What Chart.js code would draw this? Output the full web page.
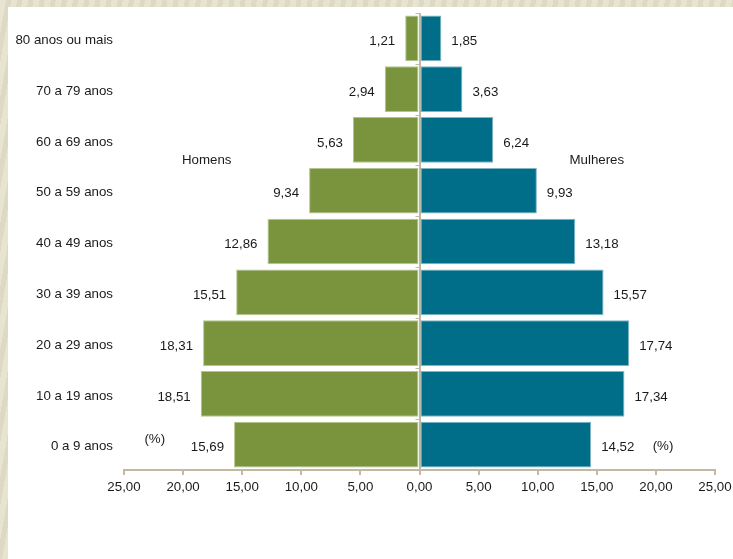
<!DOCTYPE html>
<html>
<head>
<meta charset="utf-8">
<script src="https://cdn.jsdelivr.net/npm/chart.js@4"></script>
<style>
  html, body { margin: 0; padding: 0; }
  body {
    width: 733px; height: 559px; overflow: hidden;
    background: #e4e0cb;
    background-image: repeating-linear-gradient(100deg, rgba(255,255,255,0.12) 0 6px, rgba(0,0,0,0.03) 6px 11px);
  }
  #box { position: absolute; left: 8px; top: 7px; width: 725px; height: 552px; background: #fff; }
</style>
</head>
<body>
<div id="box"><canvas id="pyramid" width="725" height="552"></canvas></div>
<script>
// faixas etárias, de cima para baixo
const faixas = ['80 anos ou mais', '70 a 79 anos', '60 a 69 anos', '50 a 59 anos', '40 a 49 anos',
  '30 a 39 anos', '20 a 29 anos', '10 a 19 anos', '0 a 9 anos'];
const homens = [1.21, 2.94, 5.63, 9.34, 12.86, 15.51, 18.31, 18.51, 15.69];
const mulheres = [1.85, 3.63, 6.24, 9.93, 13.18, 15.57, 17.74, 17.34, 14.52];
const xTicks = [-25, -20, -15, -10, -5, 0, 5, 10, 15, 20, 25];

const axisColor = '#c3b8a2';
const fontFamily = '"Liberation Sans", Arial, sans-serif';
const fontSize = 13.3;
const fmt = v => Math.abs(v).toFixed(2).replace('.', ',');

// valores nas pontas das barras, rótulos e marcas do eixo central
const piramidePlugin = {
  id: 'piramide',
  afterDatasetsDraw(chart) {
    const { ctx, scales: { x, y } } = chart;
    ctx.save();
    ctx.font = fontSize + 'px ' + fontFamily;
    ctx.fillStyle = '#1a1a1a';
    ctx.textBaseline = 'middle';

    chart.getDatasetMeta(0).data.forEach((bar, i) => {
      ctx.textAlign = 'right';
      ctx.fillText(fmt(homens[i]), bar.x - 10, bar.y + 3);
    });
    chart.getDatasetMeta(1).data.forEach((bar, i) => {
      ctx.textAlign = 'left';
      ctx.fillText(fmt(mulheres[i]), bar.x + 10, bar.y + 3);
    });

    ctx.textAlign = 'center';
    ctx.fillText('Homens', x.getPixelForValue(-18), y.getPixelForValue(2.4));
    ctx.fillText('Mulheres', x.getPixelForValue(15), y.getPixelForValue(2.4));
    ctx.fillText('(%)', x.getPixelForValue(-22.4), y.getPixelForValue(7.9));
    ctx.fillText('(%)', x.getPixelForValue(20.6), y.getPixelForValue(8.04));

    // marcas no eixo vertical central
    const x0 = x.getPixelForValue(0);
    ctx.strokeStyle = axisColor;
    ctx.lineWidth = 1;
    for (let i = 0; i <= faixas.length; i++) {
      const yb = y.getPixelForValue(i - 0.5);
      ctx.beginPath();
      ctx.moveTo(x0 - 4, Math.round(yb) + 0.5);
      ctx.lineTo(x0, Math.round(yb) + 0.5);
      ctx.stroke();
    }
    ctx.restore();
  }
};

new Chart(document.getElementById('pyramid'), {
  type: 'bar',
  data: {
    labels: faixas,
    datasets: [
      {
        label: 'Homens',
        data: homens.map(v => -v),
        backgroundColor: '#79943d',
        borderColor: '#b4c68f',
        borderWidth: 1,
        borderSkipped: false
      },
      {
        label: 'Mulheres',
        data: mulheres,
        backgroundColor: '#006e88',
        borderColor: '#7fb6c4',
        borderWidth: 1,
        borderSkipped: false
      }
    ]
  },
  options: {
    indexAxis: 'y',
    responsive: false,
    animation: false,
    barPercentage: 0.9,
    categoryPercentage: 1,
    layout: { padding: { top: 6, right: 18, bottom: 60, left: 0 } },
    plugins: { legend: { display: false }, tooltip: { enabled: false } },
    scales: {
      x: {
        stacked: true,
        min: -25,
        max: 25,
        afterBuildTicks: axis => { axis.ticks = xTicks.map(v => ({ value: v })); },
        afterFit: axis => { axis.paddingLeft = 0; axis.paddingRight = 0; },
        ticks: {
          callback: v => fmt(v),
          color: '#1a1a1a',
          font: { family: fontFamily, size: fontSize },
          padding: 4,
          maxRotation: 0
        },
        grid: {
          color: c => (c.tick && c.tick.value === 0) ? axisColor : 'transparent',
          tickColor: axisColor,
          tickLength: 5,
          lineWidth: 2
        },
        border: { color: axisColor, width: 2 }
      },
      y: {
        stacked: true,
        afterFit: axis => { axis.width = 116; axis.paddingTop = 0; axis.paddingBottom = 0; },
        ticks: {
          color: '#1a1a1a',
          font: { family: fontFamily, size: fontSize },
          padding: 11,
          labelOffset: 2
        },
        grid: { display: false, drawTicks: false },
        border: { display: false }
      }
    }
  },
  plugins: [piramidePlugin]
});
</script>
</body>
</html>
